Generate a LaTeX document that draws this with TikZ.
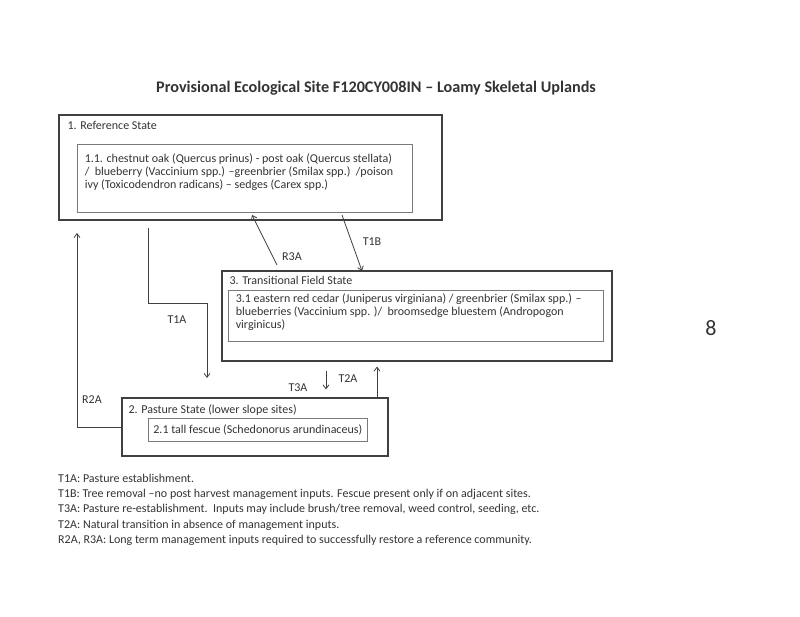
\documentclass[tikz,border=0pt]{standalone}
\usepackage{fontspec}
\setmainfont{Carlito}
\usepackage{xcolor}
\usepackage{tikz}
\usetikzlibrary{positioning,arrows.meta}
\definecolor{ink}{rgb}{0.2,0.2,0.2}
\definecolor{rule}{rgb}{0.25,0.25,0.25}

\begin{document}
\begin{tikzpicture}[x=1pt,y=-1pt,
  every node/.style={inner sep=0pt,text=ink,font=\fontsize{12}{13}\selectfont},
  state/.style={draw=rule,line width=1.1pt},
  community/.style={draw=rule!70,line width=0.8pt},
  flow/.style={draw=rule,line width=0.8pt,-{Straight Barb[length=4pt,width=6pt]}}]
  \useasboundingbox (0,0) rectangle (800,617);
  \node (title) [font=\fontsize{16.2}{19}\selectfont\bfseries] at (376,88) {Provisional Ecological Site F120CY008IN -- Loamy Skeletal Uplands};
  % states and communities
  \node (1) [state,minimum width=383pt,minimum height=105pt] at (250.5,167.5) {};
  \node (1t) [below right=7pt and 9pt of 1.north west] {1. Reference State};
  \node (11) [community,minimum width=335pt,minimum height=68pt] at (244.5,178) {};
  \node (11t) [below right=10pt and 8pt of 11.north west,align=left] {1.1. chestnut oak (Quercus prinus) - post oak (Quercus stellata)\\
    /\ \ blueberry (Vaccinium spp.) --greenbrier (Smilax spp.)\ \ /poison\\
    ivy (Toxicodendron radicans) -- sedges (Carex spp.)};
  \node (3) [state,minimum width=390pt,minimum height=90pt] at (417,316) {};
  \node (3t) [below right=6pt and 8pt of 3.north west] {3. Transitional Field State};
  \node (31) [community,minimum width=375pt,minimum height=51pt] at (415.5,315.5) {};
  \node (31t) [below right=3.5pt and 8pt of 31.north west,align=left] {3.1 eastern red cedar (Juniperus virginiana) / greenbrier (Smilax spp.) --\\
    blueberries (Vaccinium spp. )/\ \ broomsedge bluestem (Andropogon\\
    virginicus)};
  \node (2) [state,minimum width=266pt,minimum height=58pt] at (255,427) {};
  \node (2t) [below right=7pt and 7pt of 2.north west] {2. Pasture State (lower slope sites)};
  \node (21) [community,inner xsep=5pt,minimum height=23pt,anchor=west] at (148,429.5) {2.1 tall fescue (Schedonorus arundinaceus)};
  % transitions
  \coordinate (t1a) at (148,228);
  \coordinate (t1abend) at (207,303);
  \coordinate (t1aend) at (207,378);
  \coordinate (r2a) at (77,233);
  \coordinate (r3a) at (277,265);
  \coordinate (r3aend) at (252,215);
  \coordinate (t1b) at (342,215);
  \coordinate (t1bend) at (362,271);
  \coordinate (t3a) at (326,380);
  \coordinate (t2a) at (377,380);
  \draw[flow] (t1a) |- (t1abend) -- (t1aend);
  \draw[flow] (2.west) -| (r2a);
  \draw[flow] (r3a) -- (r3aend);
  \draw[flow] (t1b) -- (t1bend);
  \draw[flow,shorten <=9pt,shorten >=8pt] (3.south -| t3a) -- (2.north -| t3a);
  \draw[flow,shorten >=5pt] (2.north -| t2a) -- (3.south -| t2a);
  \node (T1A) at (177,320) {T1A};
  \node (R2A) at (92,400) {R2A};
  \node (R3A) at (292,257) {R3A};
  \node (T1B) at (372,242) {T1B};
  \node (T3A) at (298,388) {T3A};
  \node (T2A) at (348,379) {T2A};
  \node (page) [font=\fontsize{22}{26}\selectfont] at (711,328) {8};
  % key
  \node (key) [anchor=north west,align=left,font=\fontsize{12}{15.2}\selectfont] at (58,474) {T1A: Pasture establishment.\\
    T1B: Tree removal --no post harvest management inputs. Fescue present only if on adjacent sites.\\
    T3A: Pasture re-establishment.\ \ Inputs may include brush/tree removal, weed control, seeding, etc.\\
    T2A: Natural transition in absence of management inputs.\\
    R2A, R3A: Long term management inputs required to successfully restore a reference community.};
\end{tikzpicture}
\end{document}
